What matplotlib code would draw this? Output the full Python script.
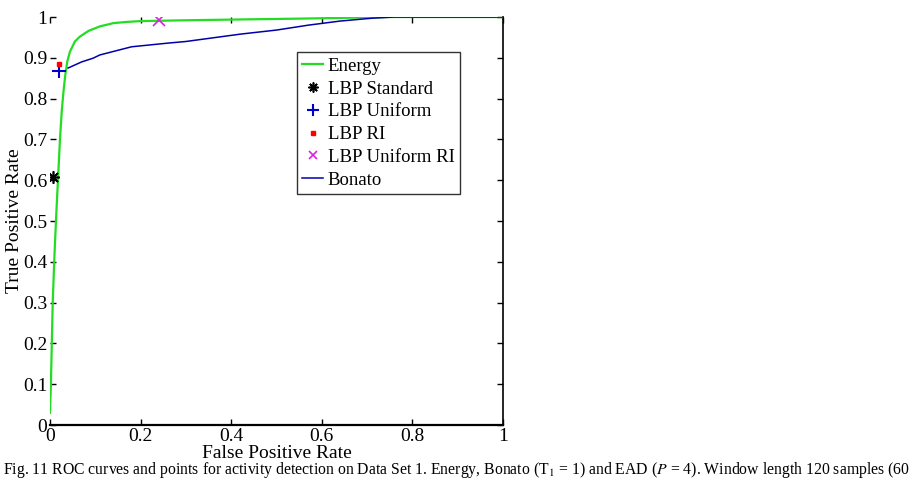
import matplotlib
matplotlib.use('Agg')
import matplotlib.pyplot as plt

plt.rcParams['font.family'] = ['Liberation Serif', 'DejaVu Serif']
plt.rcParams['mathtext.fontset'] = 'stix'

# Energy ROC curve (green)
energy_fpr = [0.0, 0.002, 0.004, 0.006, 0.010, 0.014, 0.018, 0.022, 0.026, 0.030, 0.034,
              0.038, 0.044, 0.055, 0.066, 0.085, 0.11, 0.14, 0.17, 0.20, 0.30, 0.42, 0.55, 0.65, 0.75, 1.0]
energy_tpr = [0.03, 0.10, 0.20, 0.30, 0.42, 0.52, 0.61, 0.70, 0.77, 0.82, 0.86,
              0.89, 0.915, 0.94, 0.952, 0.966, 0.977, 0.985, 0.988, 0.990, 0.992, 0.994, 0.996, 0.998, 1.0, 1.0]

# Bonato ROC curve (blue)
bonato_fpr = [0.04, 0.07, 0.095, 0.11, 0.18, 0.26, 0.30, 0.42, 0.50, 0.57, 0.64, 0.71, 0.76, 1.0]
bonato_tpr = [0.875, 0.89, 0.899, 0.907, 0.927, 0.936, 0.940, 0.958, 0.968, 0.980, 0.990, 0.997, 1.0, 1.0]

# LBP operating points
std_pt = (0.007, 0.607)
uni_pt = (0.020, 0.867)
ri_pt = (0.020, 0.886)
uniri_pt = (0.240, 0.992)

x_ticks = [0, 0.2, 0.4, 0.6, 0.8, 1]
x_labels = ['0', '0.2', '0.4', '0.6', '0.8', '1']
y_ticks = [0, 0.1, 0.2, 0.3, 0.4, 0.5, 0.6, 0.7, 0.8, 0.9, 1]
y_labels = ['0', '0.1', '0.2', '0.3', '0.4', '0.5', '0.6', '0.7', '0.8', '0.9', '1']

caption = (r"Fig. 11 ROC curves and points for activity detection on Data Set 1. Energy, Bonato "
           r"(T$_1$ = 1) and EAD ($P$ = 4). Window length 120 samples (60")

fig = plt.figure(figsize=(9.14, 4.86), dpi=100)
ax = fig.add_axes([0.0547, 0.1255, 0.4956, 0.8395])

ax.plot(energy_fpr, energy_tpr, color='#22dd22', lw=1.6, label='Energy', zorder=3)
ax.plot(*std_pt, ls='none', marker=(8, 2, 0), ms=9, mew=1.2, color='black', label='LBP Standard', zorder=4)
ax.plot(*uni_pt, ls='none', marker='+', ms=10, mew=1.5, color='#0000cc', label='LBP Uniform', zorder=4)
ax.plot(*ri_pt, ls='none', marker='s', ms=3.5, color='red', label='LBP RI', zorder=4)
ax.plot(*uniri_pt, ls='none', marker='x', ms=8, mew=1.2, color='#dd22dd', label='LBP Uniform RI', zorder=4)
ax.plot(bonato_fpr, bonato_tpr, color='#0000aa', lw=1.1, label='Bonato', zorder=3)

ax.set_xlim(0, 1)
ax.set_ylim(0, 1)
ax.set_xticks(x_ticks)
ax.set_xticklabels(x_labels)
ax.set_yticks(y_ticks)
ax.set_yticklabels(y_labels)
ax.tick_params(direction='in', length=4, width=1, labelsize=14, top=True, right=True, pad=2)
ax.spines['left'].set_visible(False)
ax.spines['top'].set_visible(False)
ax.spines['bottom'].set_linewidth(1.6)
ax.spines['right'].set_linewidth(1.2)

ax.set_xlabel('False Positive Rate', fontsize=14, labelpad=0)
ax.set_ylabel('True Positive Rate', fontsize=14, labelpad=0)

leg = ax.legend(loc='upper left', bbox_to_anchor=(0.545, 0.914), fontsize=13.5,
                frameon=True, fancybox=False, edgecolor='black', handlelength=1.1,
                handletextpad=0.25, labelspacing=0.3, borderpad=0.3, borderaxespad=0,
                markerscale=0.8)
leg.get_frame().set_linewidth(1.0)

fig.text(0.003, 0.033, caption, fontsize=11.3, ha='left', va='center')

fig.savefig('out.png', dpi=100)
